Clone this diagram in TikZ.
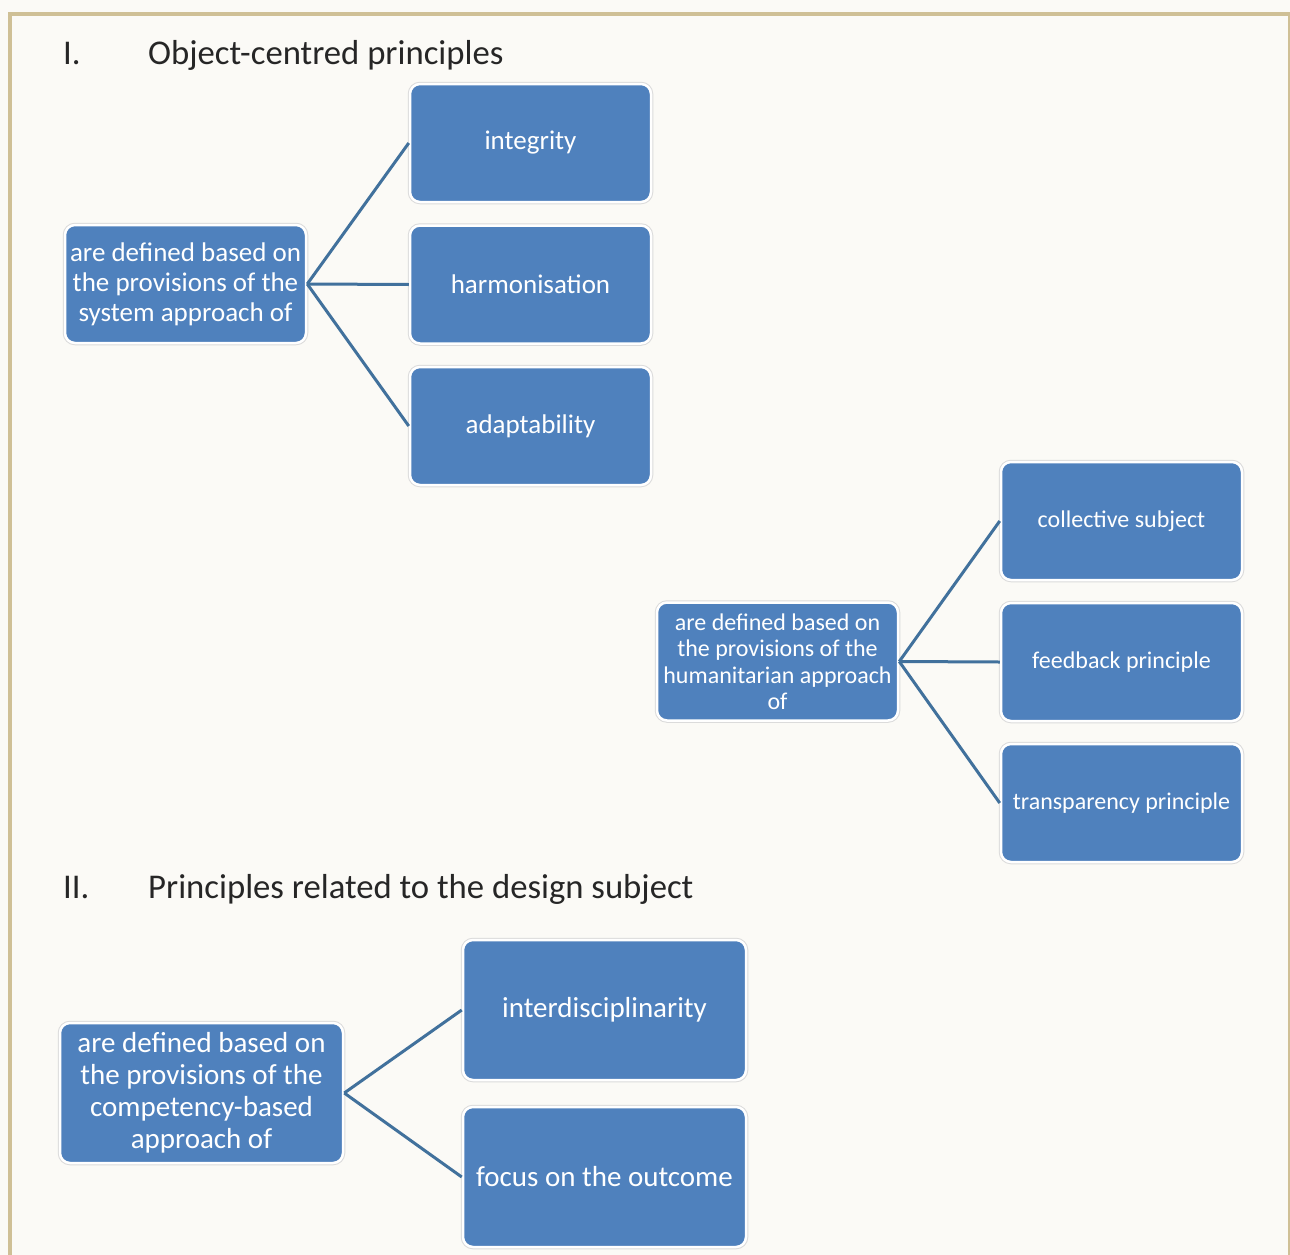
\documentclass[tikz,border=0pt]{standalone}
\usepackage{fontspec}
\setmainfont{Carlito}
\definecolor{boxblue}{HTML}{4F81BD}
\definecolor{linkblue}{HTML}{41719C}
\definecolor{frametan}{HTML}{CFC096}
\definecolor{paper}{HTML}{FBFAF6}
\definecolor{ink}{HTML}{262626}
\begin{document}
\begin{tikzpicture}[x=1pt,y=-1pt,
  box/.style={rectangle, rounded corners=10pt, fill=boxblue, draw=white, line width=2.5pt,
    text=white, align=center, inner sep=2pt,
    preaction={draw=black!14, line width=4.5pt}},
  boxA/.style={box, minimum width=241pt, minimum height=118pt, font=\fontsize{27}{30}\selectfont},
  boxB/.style={box, minimum width=241pt, minimum height=118pt, font=\fontsize{24}{26.5}\selectfont},
  boxC/.style={box, minimum width=283pt, minimum height=140pt, font=\fontsize{29}{32}\selectfont},
  link/.style={draw=linkblue, line width=3pt},
  heading/.style={anchor=base west, text=ink, font=\fontsize{34.7}{40}\selectfont, inner sep=0pt}]
\path[use as bounding box] (0,0) rectangle (1290,1255);
\fill[paper] (0,0) rectangle (1290,1255);
\draw[frametan, line width=4pt] (10,1260) -- (10,14) -- (1295,14);
\draw[frametan, line width=1.5pt] (1289,14) -- (1289,1260);
% headings
\node[heading] (h1num) at (63,65) {I.};
\node[heading] (h1) at (148,65) {Object-centred principles};
\node[heading] (h2num) at (63,898) {II.};
\node[heading] (h2) at (148,898) {Principles related to the design subject};
% section I
\node[boxA] (r1) at (185.5,284) {are defined based on\\the provisions of the\\system approach of};
\node[boxA] (a1) at (530.5,143) {integrity};
\node[boxA] (a2) at (530.5,284.5) {harmonisation};
\node[boxA] (a3) at (530.5,426) {adaptability};
\draw[link] (r1.east) -- (a1.west);
\draw[link] (r1.east) -- (a2.west);
\draw[link] (r1.east) -- (a3.west);
% humanitarian
\node[boxB] (r2) at (777.5,661.5) {are defined based on\\the provisions of the\\humanitarian approach\\of};
\node[boxB] (b1) at (1121.5,521) {collective subject};
\node[boxB] (b2) at (1121.5,662) {feedback principle};
\node[boxB] (b3) at (1121.5,803) {transparency principle};
\draw[link] (r2.east) -- (b1.west);
\draw[link] (r2.east) -- (b2.west);
\draw[link] (r2.east) -- (b3.west);
% section II
\node[boxC] (r3) at (201.5,1093) {are defined based on\\the provisions of the\\competency-based\\approach of};
\node[boxC] (c1) at (604.5,1010) {interdisciplinarity};
\node[boxC] (c2) at (604.5,1177) {focus on the outcome};
\draw[link] (r3.east) -- (c1.west);
\draw[link] (r3.east) -- (c2.west);
\end{tikzpicture}
\end{document}
